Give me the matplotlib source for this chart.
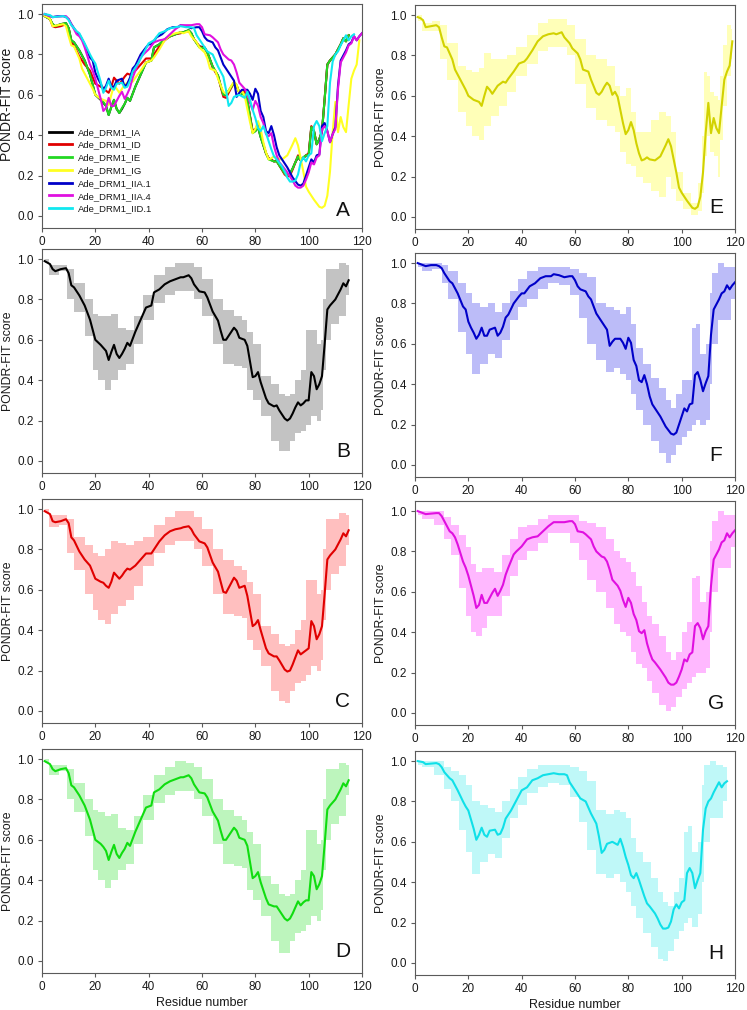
import matplotlib
matplotlib.use('Agg')
import matplotlib.pyplot as plt

plt.rcParams['font.family'] = ['Liberation Sans', 'DejaVu Sans']

# ---------------- data ----------------
labels = ['Ade_DRM1_IA', 'Ade_DRM1_ID', 'Ade_DRM1_IE', 'Ade_DRM1_IG',
          'Ade_DRM1_IIA.1', 'Ade_DRM1_IIA.4', 'Ade_DRM1_IID.1']
panel_letters = ['B', 'C', 'D', 'E', 'F', 'G', 'H']
xticks = [0, 20, 40, 60, 80, 100, 120]
yticks = [0.0, 0.2, 0.4, 0.6, 0.8, 1.0]

ia_x = [1,3,4,5,7,9,10,11,12,14,16,18,20,22,23,24,25,26,27,28,29,30,31,32,33,35,37,39,41,42,44,46,48,50,52,53,55,56,57,59,61,62,64,66,67,68,69,70,72,73,74,76,77,79,80,81,82,84,85,87,88,89,91,92,93,94,95,96,97,98,99,100,101,102,103,104,105,106,107,108,110,112,113,114,115]
ia_y = [0.99,0.975,0.95,0.94,0.95,0.955,0.93,0.87,0.86,0.82,0.77,0.70,0.60,0.575,0.56,0.545,0.50,0.54,0.575,0.53,0.51,0.53,0.555,0.585,0.57,0.64,0.70,0.76,0.77,0.835,0.85,0.875,0.89,0.90,0.91,0.91,0.92,0.905,0.875,0.84,0.835,0.81,0.74,0.695,0.645,0.60,0.60,0.62,0.66,0.645,0.61,0.60,0.57,0.415,0.42,0.44,0.39,0.31,0.285,0.27,0.275,0.25,0.21,0.20,0.21,0.235,0.265,0.29,0.275,0.285,0.30,0.30,0.44,0.42,0.355,0.38,0.42,0.58,0.75,0.77,0.80,0.85,0.88,0.865,0.895]
ia_bx = [1,4,9,10,14,18,20,22,25,27,30,33,36,40,44,48,52,56,58,62,66,70,74,76,78,80,84,88,90,92,94,96,98,100,102,104,105,106,107,110,113,115]
ia_lo = [0.98,0.92,0.94,0.80,0.74,0.62,0.45,0.40,0.35,0.40,0.45,0.48,0.58,0.70,0.78,0.82,0.84,0.84,0.80,0.72,0.58,0.48,0.47,0.46,0.35,0.30,0.22,0.10,0.05,0.05,0.10,0.14,0.15,0.18,0.22,0.20,0.25,0.45,0.60,0.68,0.72,0.82]
ia_hi = [1.0,0.97,0.97,0.95,0.88,0.80,0.73,0.72,0.72,0.73,0.66,0.65,0.72,0.82,0.92,0.96,0.98,0.98,0.96,0.90,0.80,0.75,0.72,0.70,0.64,0.58,0.42,0.38,0.33,0.32,0.33,0.40,0.45,0.65,0.65,0.58,0.60,0.80,0.95,0.95,0.98,0.97]

id_x = [1,3,4,5,7,9,10,11,12,14,16,18,20,22,23,24,25,26,27,28,29,30,31,32,33,35,37,39,41,42,44,46,48,50,52,53,55,56,57,59,61,62,64,66,67,68,69,70,72,73,74,76,77,79,80,81,82,84,85,87,88,89,91,92,93,94,95,96,97,98,99,100,101,102,103,104,105,106,107,108,110,112,113,114,115]
id_y = [0.99,0.975,0.94,0.935,0.94,0.95,0.93,0.86,0.845,0.79,0.75,0.72,0.655,0.64,0.635,0.62,0.61,0.64,0.685,0.67,0.655,0.67,0.69,0.705,0.70,0.72,0.75,0.78,0.78,0.80,0.84,0.87,0.89,0.90,0.905,0.91,0.915,0.90,0.875,0.84,0.83,0.81,0.735,0.69,0.64,0.59,0.585,0.61,0.66,0.645,0.61,0.62,0.57,0.42,0.43,0.45,0.40,0.31,0.285,0.27,0.27,0.25,0.205,0.195,0.20,0.23,0.265,0.30,0.28,0.29,0.30,0.31,0.445,0.42,0.355,0.38,0.42,0.58,0.75,0.77,0.80,0.85,0.88,0.865,0.895]
id_bx = [1,4,9,10,14,18,20,22,25,27,30,33,36,40,44,48,52,56,58,62,66,70,74,76,78,80,84,88,90,92,94,96,98,100,102,104,105,106,107,110,113,115]
id_lo = [0.98,0.91,0.92,0.78,0.70,0.58,0.50,0.45,0.43,0.48,0.52,0.55,0.62,0.72,0.78,0.82,0.84,0.84,0.80,0.72,0.58,0.48,0.47,0.46,0.35,0.30,0.22,0.10,0.05,0.04,0.10,0.14,0.15,0.18,0.22,0.20,0.25,0.45,0.60,0.68,0.72,0.82]
id_hi = [1.0,0.97,0.97,0.95,0.86,0.82,0.78,0.77,0.80,0.84,0.83,0.82,0.84,0.86,0.92,0.96,0.99,0.99,0.96,0.90,0.80,0.75,0.72,0.70,0.64,0.58,0.42,0.38,0.33,0.32,0.33,0.40,0.45,0.65,0.65,0.58,0.60,0.80,0.95,0.95,0.98,0.97]

ie_x = [1,3,4,5,7,9,10,11,12,14,16,18,20,22,23,24,25,26,27,28,29,30,31,32,33,35,37,39,41,42,44,46,48,50,52,53,55,56,57,59,61,62,64,66,67,68,69,70,72,73,74,76,77,79,80,81,82,84,85,87,88,89,91,92,93,94,95,96,97,98,99,100,101,102,103,104,105,106,107,108,110,112,113,114,115]
ie_y = [0.99,0.975,0.95,0.94,0.95,0.955,0.93,0.87,0.86,0.82,0.77,0.70,0.60,0.58,0.565,0.545,0.50,0.54,0.575,0.53,0.51,0.535,0.555,0.585,0.57,0.64,0.70,0.76,0.77,0.835,0.85,0.875,0.89,0.90,0.91,0.91,0.92,0.905,0.875,0.835,0.83,0.81,0.74,0.695,0.645,0.60,0.60,0.62,0.66,0.645,0.61,0.60,0.57,0.41,0.42,0.44,0.39,0.31,0.28,0.27,0.27,0.25,0.21,0.20,0.21,0.235,0.265,0.295,0.275,0.29,0.30,0.30,0.44,0.42,0.355,0.38,0.42,0.58,0.75,0.77,0.80,0.85,0.88,0.865,0.895]
ie_bx = [1,4,9,10,14,18,20,22,25,27,30,33,36,40,44,48,52,56,58,62,66,70,74,76,78,80,84,88,90,92,94,96,98,100,102,104,105,106,107,110,113,115]
ie_lo = [0.98,0.92,0.94,0.80,0.74,0.62,0.45,0.40,0.36,0.40,0.45,0.48,0.58,0.70,0.78,0.82,0.84,0.84,0.80,0.72,0.58,0.48,0.47,0.46,0.35,0.30,0.22,0.10,0.04,0.04,0.10,0.14,0.15,0.18,0.22,0.20,0.25,0.45,0.60,0.68,0.72,0.82]
ie_hi = [1.0,0.97,0.97,0.95,0.88,0.80,0.75,0.74,0.72,0.73,0.66,0.65,0.72,0.82,0.92,0.96,0.99,0.98,0.96,0.90,0.80,0.75,0.72,0.70,0.64,0.58,0.42,0.38,0.33,0.32,0.33,0.40,0.45,0.65,0.65,0.58,0.60,0.80,0.95,0.95,0.98,0.97]

ig_x = [1,2,3,4,6,8,9,10,11,12,14,15,17,19,20,22,23,24,25,26,27,28,29,30,31,33,34,35,37,39,41,42,44,46,48,50,52,53,55,56,58,59,61,62,63,65,66,68,69,70,71,72,73,74,75,76,77,78,79,80,81,82,83,84,85,86,87,88,90,92,94,95,96,97,98,99,100,102,104,105,106,107,108,109,110,111,112,113,114,115,116,117,118,119]
ig_y = [0.99,0.985,0.975,0.94,0.945,0.95,0.94,0.89,0.845,0.84,0.78,0.73,0.68,0.63,0.60,0.58,0.575,0.57,0.55,0.60,0.645,0.63,0.61,0.63,0.65,0.67,0.665,0.685,0.72,0.76,0.77,0.785,0.825,0.87,0.895,0.905,0.91,0.905,0.915,0.89,0.86,0.835,0.81,0.78,0.73,0.72,0.68,0.615,0.605,0.62,0.645,0.665,0.65,0.605,0.62,0.595,0.53,0.465,0.41,0.43,0.47,0.43,0.365,0.315,0.28,0.285,0.295,0.285,0.28,0.30,0.355,0.385,0.35,0.285,0.22,0.145,0.12,0.08,0.045,0.04,0.05,0.10,0.22,0.415,0.565,0.415,0.49,0.44,0.415,0.55,0.68,0.72,0.75,0.87]
ig_bx = [1,4,9,10,14,18,20,23,25,27,30,33,36,40,44,48,52,56,58,62,66,70,74,76,78,80,82,84,87,90,93,95,97,99,102,105,107,108,109,110,111,113,114,115,116,118,119]
ig_lo = [0.97,0.92,0.92,0.78,0.68,0.52,0.45,0.40,0.38,0.45,0.50,0.55,0.62,0.70,0.76,0.82,0.84,0.84,0.80,0.66,0.54,0.48,0.45,0.42,0.32,0.26,0.25,0.20,0.17,0.13,0.10,0.20,0.14,0.08,0.04,0.01,0.03,0.12,0.30,0.40,0.32,0.30,0.20,0.38,0.55,0.70,0.78]
ig_hi = [1.0,0.96,0.97,0.95,0.86,0.75,0.73,0.72,0.74,0.81,0.78,0.78,0.80,0.84,0.90,0.96,0.98,0.98,0.95,0.88,0.80,0.78,0.75,0.65,0.60,0.64,0.52,0.42,0.42,0.48,0.52,0.50,0.42,0.22,0.12,0.07,0.17,0.40,0.72,0.70,0.62,0.60,0.58,0.70,0.85,0.95,0.93]

a1_x = [1,3,4,6,8,9,10,11,13,14,15,16,18,19,20,21,22,23,24,25,26,27,28,30,31,32,33,34,35,37,39,40,41,43,45,47,49,51,52,54,56,58,59,60,61,62,64,65,66,67,68,70,72,73,74,75,77,78,79,80,81,82,83,84,85,86,87,88,89,90,92,94,96,97,98,99,100,101,102,103,104,105,106,107,108,109,110,111,112,113,114,115,116,117,118,119,120]
a1_y = [1.0,0.99,0.985,0.99,0.99,0.985,0.975,0.95,0.91,0.90,0.875,0.85,0.785,0.77,0.71,0.68,0.655,0.625,0.645,0.68,0.64,0.64,0.67,0.68,0.64,0.655,0.685,0.73,0.745,0.80,0.835,0.85,0.85,0.885,0.90,0.925,0.935,0.935,0.945,0.94,0.93,0.935,0.935,0.915,0.885,0.87,0.86,0.835,0.82,0.785,0.75,0.71,0.67,0.59,0.61,0.625,0.625,0.605,0.575,0.63,0.605,0.52,0.49,0.42,0.41,0.445,0.40,0.34,0.30,0.28,0.24,0.19,0.155,0.15,0.16,0.20,0.24,0.28,0.265,0.30,0.305,0.445,0.46,0.42,0.365,0.405,0.44,0.645,0.77,0.795,0.82,0.85,0.86,0.89,0.87,0.89,0.905]
a1_bx = [1,4,9,11,14,18,20,23,26,29,31,34,37,40,44,48,52,56,60,63,66,70,73,76,78,80,82,84,87,90,93,95,97,99,101,103,105,106,108,110,111,112,115,117,120]
a1_lo = [0.98,0.96,0.97,0.90,0.82,0.66,0.55,0.45,0.50,0.55,0.53,0.62,0.72,0.78,0.82,0.87,0.90,0.89,0.84,0.73,0.60,0.52,0.46,0.48,0.45,0.42,0.35,0.27,0.20,0.12,0.06,0.01,0.05,0.10,0.14,0.17,0.20,0.22,0.20,0.22,0.40,0.60,0.72,0.72,0.82]
a1_hi = [1.0,1.0,1.0,0.99,0.96,0.90,0.85,0.80,0.78,0.80,0.76,0.80,0.86,0.92,0.96,0.98,0.98,0.98,0.97,0.95,0.93,0.80,0.78,0.77,0.75,0.78,0.70,0.58,0.50,0.43,0.38,0.32,0.28,0.35,0.42,0.42,0.68,0.70,0.55,0.60,0.85,0.95,1.0,0.98,0.98]

a4_x = [1,3,4,8,9,10,11,13,14,15,16,18,19,20,21,22,23,24,25,26,27,28,29,30,31,32,33,34,35,37,38,40,42,44,46,48,50,52,54,56,58,59,60,61,63,64,66,67,68,70,71,72,73,74,75,76,77,78,79,80,81,82,83,84,85,86,87,88,89,90,92,94,95,96,97,98,99,100,101,102,103,104,105,106,107,108,109,110,111,112,113,114,115,116,117,118,119,120]
a4_y = [1.0,0.99,0.985,0.99,0.99,0.975,0.95,0.90,0.89,0.87,0.835,0.75,0.72,0.68,0.63,0.58,0.52,0.535,0.585,0.545,0.545,0.57,0.595,0.615,0.58,0.605,0.635,0.685,0.72,0.785,0.80,0.825,0.86,0.87,0.875,0.90,0.925,0.945,0.945,0.945,0.95,0.95,0.935,0.90,0.895,0.885,0.86,0.825,0.80,0.775,0.77,0.75,0.71,0.66,0.645,0.63,0.605,0.56,0.525,0.57,0.545,0.49,0.46,0.405,0.395,0.41,0.345,0.30,0.265,0.25,0.215,0.175,0.15,0.14,0.14,0.15,0.18,0.215,0.265,0.255,0.29,0.30,0.43,0.445,0.42,0.365,0.405,0.43,0.63,0.76,0.785,0.81,0.845,0.855,0.89,0.87,0.89,0.905]
a4_bx = [1,4,10,12,15,18,20,22,24,26,28,31,34,37,40,44,48,52,56,60,63,66,70,73,76,78,80,82,84,86,88,90,93,95,97,99,101,103,105,106,108,110,111,112,115,117,120]
a4_lo = [0.98,0.96,0.93,0.86,0.78,0.62,0.48,0.40,0.38,0.42,0.48,0.48,0.58,0.68,0.76,0.80,0.84,0.89,0.89,0.84,0.76,0.66,0.60,0.52,0.44,0.40,0.38,0.30,0.24,0.22,0.16,0.10,0.04,0.01,0.03,0.08,0.12,0.15,0.18,0.20,0.20,0.22,0.40,0.60,0.72,0.72,0.82]
a4_hi = [1.0,1.0,1.0,0.97,0.93,0.88,0.82,0.74,0.70,0.72,0.72,0.70,0.78,0.86,0.92,0.93,0.96,0.98,0.98,0.98,0.95,0.94,0.92,0.86,0.80,0.77,0.75,0.70,0.63,0.55,0.48,0.44,0.38,0.30,0.26,0.30,0.40,0.45,0.67,0.68,0.55,0.60,0.85,0.95,1.0,0.98,0.98]

d1_x = [1,3,4,8,9,10,11,13,14,15,16,18,19,20,21,22,23,24,25,26,27,28,30,31,32,33,34,36,38,40,42,44,46,48,50,52,54,56,57,58,60,62,64,66,68,69,70,71,72,74,76,77,78,79,80,81,82,83,84,85,86,87,88,90,91,92,93,94,95,96,97,98,99,100,101,102,103,104,105,106,107,108,109,110,111,112,113,114,115,116,117]
d1_y = [1.0,0.995,0.985,0.99,0.985,0.97,0.945,0.915,0.905,0.88,0.855,0.80,0.775,0.755,0.71,0.665,0.61,0.635,0.67,0.635,0.625,0.655,0.66,0.635,0.64,0.67,0.715,0.755,0.805,0.855,0.87,0.905,0.915,0.93,0.935,0.94,0.935,0.935,0.93,0.895,0.855,0.815,0.80,0.74,0.69,0.625,0.545,0.56,0.59,0.60,0.585,0.615,0.575,0.525,0.485,0.435,0.42,0.445,0.41,0.37,0.33,0.295,0.28,0.245,0.22,0.19,0.17,0.17,0.175,0.205,0.265,0.29,0.27,0.30,0.31,0.445,0.47,0.445,0.37,0.41,0.445,0.66,0.765,0.80,0.815,0.845,0.87,0.895,0.87,0.89,0.90]
d1_bx = [1,4,10,12,15,18,20,23,26,29,31,34,37,40,44,48,52,56,60,63,66,70,73,76,78,80,82,84,87,90,92,94,96,98,100,102,103,105,107,108,109,112,114,117]
d1_lo = [0.98,0.97,0.93,0.86,0.80,0.66,0.55,0.44,0.50,0.54,0.52,0.62,0.72,0.78,0.84,0.87,0.89,0.88,0.82,0.70,0.56,0.44,0.42,0.44,0.40,0.35,0.28,0.22,0.15,0.08,0.02,0.01,0.06,0.12,0.16,0.20,0.22,0.18,0.24,0.40,0.60,0.72,0.72,0.80]
d1_hi = [1.0,1.0,1.0,0.97,0.95,0.93,0.88,0.80,0.78,0.77,0.75,0.80,0.86,0.92,0.96,0.98,0.98,0.98,0.97,0.95,0.90,0.76,0.74,0.76,0.75,0.72,0.62,0.55,0.50,0.42,0.35,0.30,0.28,0.35,0.42,0.65,0.68,0.55,0.60,0.88,0.98,1.0,0.98,0.97]

series_x = [ia_x, id_x, ie_x, ig_x, a1_x, a4_x, d1_x]
series_y = [ia_y, id_y, ie_y, ig_y, a1_y, a4_y, d1_y]
band_x = [ia_bx, id_bx, ie_bx, ig_bx, a1_bx, a4_bx, d1_bx]
band_lo = [ia_lo, id_lo, ie_lo, ig_lo, a1_lo, a4_lo, d1_lo]
band_hi = [ia_hi, id_hi, ie_hi, ig_hi, a1_hi, a4_hi, d1_hi]

# ---------------- styles ----------------
overview_colors = ['#000000', '#e00000', '#22d822', '#ffff22', '#0000c8', '#e010e0', '#10e8f0']
panel_line_colors = ['#000000', '#e00000', '#10dd10', '#d2d200', '#0000c8', '#e010e0', '#10e0e8']
band_colors = ['#c3c3c3', '#ffbfbf', '#bdf5bd', '#ffffb8', '#bcbcf8', '#ffb8ff', '#bff8f8']

W, H = 747.0, 1010.0
fig = plt.figure(figsize=(W / 100, H / 100), dpi=100)
fig.patch.set_facecolor('white')

AXW, AXH = 320, 224


def add_ax(left_px, top_px):
    return fig.add_axes([left_px / W, 1 - (top_px + AXH) / H, AXW / W, AXH / H])


def style(ax, letter, xlabel=False, ly=0.095, ylab_size=9, ylab_y=0.5):
    ax.set_xlim(0, 120)
    ax.set_ylim(-0.06, 1.05)
    ax.set_xticks(xticks)
    ax.set_yticks(yticks)
    ax.set_yticklabels([f'{v:.1f}' for v in yticks])
    for s in ax.spines.values():
        s.set_color('#5a5a5a')
        s.set_linewidth(0.8)
    ax.tick_params(direction='out', length=3, width=0.8, colors='#5a5a5a',
                   labelcolor='#1a1a1a', labelsize=8.5, pad=3)
    ax.set_ylabel('PONDR-FIT score', fontsize=ylab_size, color='#1a1a1a')
    ax.yaxis.set_label_coords(-0.088, ylab_y)
    if xlabel:
        ax.set_xlabel('Residue number', fontsize=9, color='#1a1a1a', labelpad=3)
    ax.text(0.94, ly, letter, transform=ax.transAxes, fontsize=15,
            ha='center', va='center', color='#111111')


left_col = 42
right_col = 415
left_tops = [4, 249, 499, 749]
right_tops = [5, 253, 501, 751]

# Panel A: overview of all sequences
axA = add_ax(left_col, left_tops[0])
for i in range(7):
    axA.plot(series_x[i], series_y[i], color=overview_colors[i], lw=1.5,
             label=labels[i], solid_joinstyle='round')
style(axA, 'A', ly=0.08, ylab_size=10, ylab_y=0.55)
leg = axA.legend(loc='lower left', bbox_to_anchor=(0.0, 0.035), frameon=False,
                 fontsize=6.8, handlelength=2.5, handletextpad=0.6,
                 labelspacing=0.4, borderaxespad=0.3)
for t in leg.get_texts():
    t.set_color('#1a1a1a')
for h in leg.get_lines():
    h.set_linewidth(2.0)

# Panels B-H
positions = [(left_col, left_tops[1]), (left_col, left_tops[2]), (left_col, left_tops[3]),
             (right_col, right_tops[0]), (right_col, right_tops[1]),
             (right_col, right_tops[2]), (right_col, right_tops[3])]
for i in range(7):
    ax = add_ax(*positions[i])
    ax.fill_between(band_x[i], band_lo[i], band_hi[i], step='mid',
                    color=band_colors[i], lw=0)
    ax.plot(series_x[i], series_y[i], color=panel_line_colors[i], lw=1.5,
            solid_joinstyle='round')
    style(ax, panel_letters[i], xlabel=(panel_letters[i] in ('D', 'H')), ylab_size=8.8)

fig.savefig('out.png', dpi=100, facecolor='white')
